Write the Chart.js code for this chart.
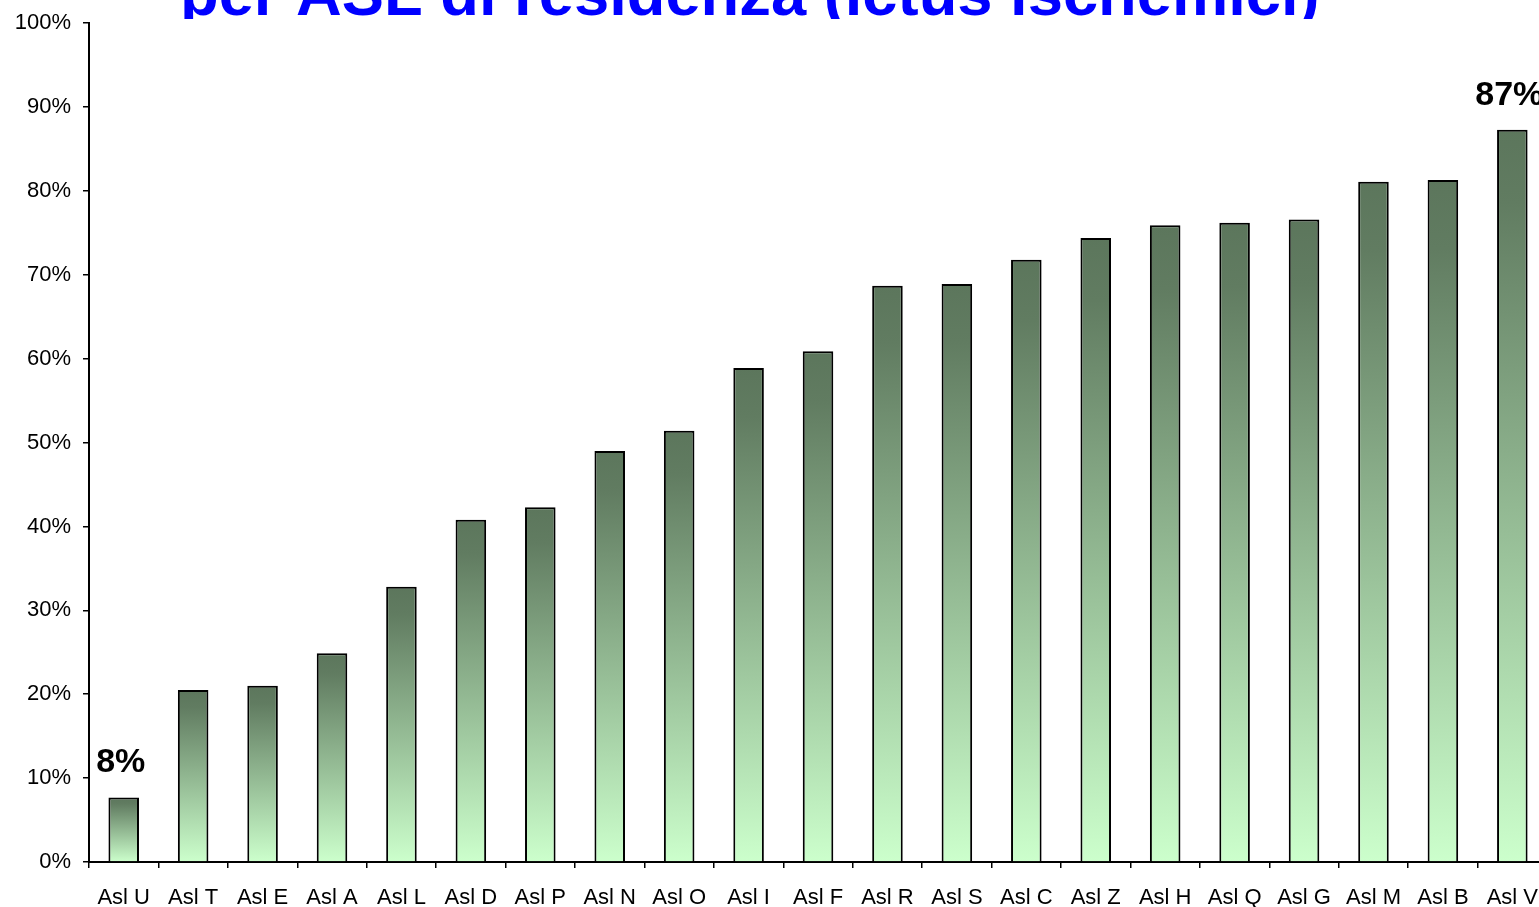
<!DOCTYPE html>
<html>
<head>
<meta charset="utf-8">
<script src="https://cdn.jsdelivr.net/npm/chart.js@4/dist/chart.umd.min.js"></script>
<style>
  html, body { margin: 0; padding: 0; background: #fff; overflow: hidden; width: 1539px; height: 907px; }
  #wrap { position: absolute; left: 0; top: -2px; width: 1555px; height: 909px; }
</style>
</head>
<body>
<div id="wrap"><canvas id="c"></canvas></div>
<script>
const categories = ['Asl U','Asl T','Asl E','Asl A','Asl L','Asl D','Asl P','Asl N','Asl O','Asl I','Asl F','Asl R','Asl S','Asl C','Asl Z','Asl H','Asl Q','Asl G','Asl M','Asl B','Asl V'];
const values = [7.7, 20.5, 21.0, 24.9, 32.8, 40.8, 42.3, 49.0, 51.4, 58.9, 60.9, 68.7, 68.9, 71.8, 74.4, 75.9, 76.2, 76.6, 81.1, 81.3, 87.3];
const barLabels = ['8%','','','','','','','','','','','','','','','','','','','','87%'];
const yTicks = [0,10,20,30,40,50,60,70,80,90,100];
const titleText = 'per ASL di residenza (ictus ischemici)';

const FONT = '"Liberation Sans", Arial, Helvetica, sans-serif';

const titlePlugin = {
  id: 'clippedTitle',
  afterDraw(chart) {
    const ctx = chart.ctx;
    ctx.save();
    ctx.beginPath();
    ctx.rect(0, 0, chart.width, 21);
    ctx.clip();
    ctx.font = 'bold 63.3px ' + FONT;
    ctx.fillStyle = '#0000ff';
    ctx.textAlign = 'left';
    ctx.textBaseline = 'alphabetic';
    ctx.fillText(titleText, 180, 17);
    ctx.restore();
  }
};

const labelPlugin = {
  id: 'barLabels',
  afterDatasetsDraw(chart) {
    const ctx = chart.ctx;
    const meta = chart.getDatasetMeta(0);
    ctx.save();
    ctx.font = 'bold 34px ' + FONT;
    ctx.fillStyle = '#000';
    ctx.textAlign = 'center';
    ctx.textBaseline = 'alphabetic';
    meta.data.forEach((bar, i) => {
      if (barLabels[i]) ctx.fillText(barLabels[i], bar.x - 3, bar.y - 25);
    });
    ctx.restore();
  }
};

new Chart(document.getElementById('c'), {
  type: 'bar',
  data: {
    labels: categories,
    datasets: [{
      data: values,
      backgroundColor: (ctx) => {
        const chart = ctx.chart;
        if (!chart.chartArea || ctx.type !== 'data') return '#8fb38f';
        const ys = chart.scales.y;
        const top = ys.getPixelForValue(ctx.raw);
        const bottom = ys.getPixelForValue(0);
        const g = chart.ctx.createLinearGradient(0, top, 0, bottom);
        g.addColorStop(0, '#5c765c');
        g.addColorStop(0.1, '#617c61');
        g.addColorStop(1, '#ccffcc');
        return g;
      },
      borderColor: '#000',
      borderWidth: 2,
      borderSkipped: 'bottom',
      barPercentage: 0.44,
      categoryPercentage: 1.0
    }]
  },
  options: {
    responsive: true,
    maintainAspectRatio: false,
    animation: false,
    layout: { padding: { top: 20, right: 0, left: 0, bottom: 0 } },
    plugins: { legend: { display: false }, tooltip: { enabled: false }, title: { display: false } },
    scales: {
      x: {
        offset: true,
        grid: { display: true, drawOnChartArea: false, drawTicks: true, tickLength: 6, color: '#000', lineWidth: 1.5, offset: true },
        border: { display: true, color: '#000', width: 2 },
        ticks: { color: '#000', font: { family: FONT, size: 22 }, padding: 17, maxRotation: 0, autoSkip: false },
        afterFit: (s) => { s.height = 45; }
      },
      y: {
        min: 0, max: 100,
        afterBuildTicks: (s) => { s.ticks = yTicks.map(v => ({ value: v })); },
        grid: { display: true, drawOnChartArea: false, drawTicks: true, tickLength: 6, color: '#000', lineWidth: 1.5 },
        border: { display: true, color: '#000', width: 2 },
        ticks: { color: '#000', font: { family: FONT, size: 22 }, padding: 12, callback: (v) => v + '%' },
        afterFit: (s) => { s.width = 89; }
      }
    }
  },
  plugins: [titlePlugin, labelPlugin]
});
</script>
</body>
</html>
